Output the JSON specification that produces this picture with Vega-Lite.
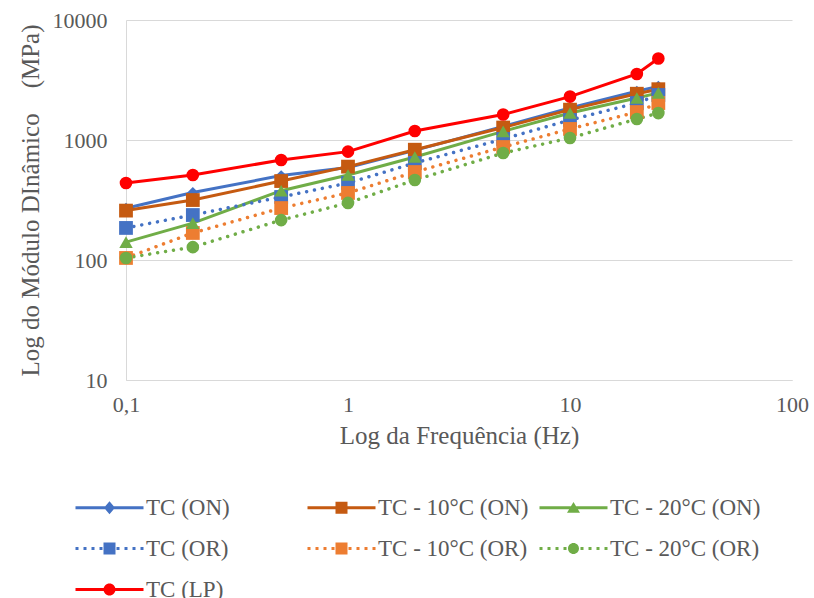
{
  "$schema": "https://vega.github.io/schema/vega-lite/v6.json",
  "width": 666,
  "height": 360,
  "autosize": {"type": "none"},
  "padding": {"left": 126, "top": 20, "right": 22, "bottom": 218},
  "background": "white",
  "config": {
    "view": {"stroke": null},
    "font": "Liberation Serif",
    "axis": {
      "labelFont": "Liberation Serif",
      "titleFont": "Liberation Serif",
      "labelColor": "#595959",
      "titleColor": "#595959",
      "titleFontWeight": "normal",
      "labelFontSize": 22,
      "titleFontSize": 25,
      "domainColor": "#d9d9d9",
      "domainWidth": 1,
      "gridColor": "#d9d9d9",
      "gridWidth": 1,
      "ticks": false,
      "tickSize": 0,
      "labelFlush": false,
      "labelOverlap": false
    },
    "legend": {
      "labelFont": "Liberation Serif"
    }
  },
  "data": {
    "values": [
      {"series": "TC (ON)", "freq": 0.1, "value": 270},
      {"series": "TC (ON)", "freq": 0.2, "value": 365},
      {"series": "TC (ON)", "freq": 0.5, "value": 505},
      {"series": "TC (ON)", "freq": 1, "value": 590},
      {"series": "TC (ON)", "freq": 2, "value": 820},
      {"series": "TC (ON)", "freq": 5, "value": 1300},
      {"series": "TC (ON)", "freq": 10, "value": 1850},
      {"series": "TC (ON)", "freq": 20, "value": 2550},
      {"series": "TC (ON)", "freq": 25, "value": 2800},
      {"series": "TC - 10°C (ON)", "freq": 0.1, "value": 258},
      {"series": "TC - 10°C (ON)", "freq": 0.2, "value": 316},
      {"series": "TC - 10°C (ON)", "freq": 0.5, "value": 455},
      {"series": "TC - 10°C (ON)", "freq": 1, "value": 600},
      {"series": "TC - 10°C (ON)", "freq": 2, "value": 830},
      {"series": "TC - 10°C (ON)", "freq": 5, "value": 1270},
      {"series": "TC - 10°C (ON)", "freq": 10, "value": 1790},
      {"series": "TC - 10°C (ON)", "freq": 20, "value": 2430},
      {"series": "TC - 10°C (ON)", "freq": 25, "value": 2650},
      {"series": "TC - 20°C (ON)", "freq": 0.1, "value": 141},
      {"series": "TC - 20°C (ON)", "freq": 0.2, "value": 203},
      {"series": "TC - 20°C (ON)", "freq": 0.5, "value": 378},
      {"series": "TC - 20°C (ON)", "freq": 1, "value": 511},
      {"series": "TC - 20°C (ON)", "freq": 2, "value": 722},
      {"series": "TC - 20°C (ON)", "freq": 5, "value": 1180},
      {"series": "TC - 20°C (ON)", "freq": 10, "value": 1680},
      {"series": "TC - 20°C (ON)", "freq": 20, "value": 2240},
      {"series": "TC - 20°C (ON)", "freq": 25, "value": 2470},
      {"series": "TC (OR)", "freq": 0.1, "value": 185},
      {"series": "TC (OR)", "freq": 0.2, "value": 237},
      {"series": "TC (OR)", "freq": 0.5, "value": 335},
      {"series": "TC (OR)", "freq": 1, "value": 438},
      {"series": "TC (OR)", "freq": 2, "value": 643},
      {"series": "TC (OR)", "freq": 5, "value": 1019},
      {"series": "TC (OR)", "freq": 10, "value": 1468},
      {"series": "TC (OR)", "freq": 20, "value": 2032},
      {"series": "TC (OR)", "freq": 25, "value": 2371},
      {"series": "TC - 10°C (OR)", "freq": 0.1, "value": 104},
      {"series": "TC - 10°C (OR)", "freq": 0.2, "value": 168},
      {"series": "TC - 10°C (OR)", "freq": 0.5, "value": 271},
      {"series": "TC - 10°C (OR)", "freq": 1, "value": 362},
      {"series": "TC - 10°C (OR)", "freq": 2, "value": 541},
      {"series": "TC - 10°C (OR)", "freq": 5, "value": 874},
      {"series": "TC - 10°C (OR)", "freq": 10, "value": 1236},
      {"series": "TC - 10°C (OR)", "freq": 20, "value": 1710},
      {"series": "TC - 10°C (OR)", "freq": 25, "value": 2032},
      {"series": "TC - 20°C (OR)", "freq": 0.1, "value": 104},
      {"series": "TC - 20°C (OR)", "freq": 0.2, "value": 128},
      {"series": "TC - 20°C (OR)", "freq": 0.5, "value": 215},
      {"series": "TC - 20°C (OR)", "freq": 1, "value": 299},
      {"series": "TC - 20°C (OR)", "freq": 2, "value": 464},
      {"series": "TC - 20°C (OR)", "freq": 5, "value": 779},
      {"series": "TC - 20°C (OR)", "freq": 10, "value": 1039},
      {"series": "TC - 20°C (OR)", "freq": 20, "value": 1496},
      {"series": "TC - 20°C (OR)", "freq": 25, "value": 1677},
      {"series": "TC (LP)", "freq": 0.1, "value": 438},
      {"series": "TC (LP)", "freq": 0.2, "value": 511},
      {"series": "TC (LP)", "freq": 0.5, "value": 681},
      {"series": "TC (LP)", "freq": 1, "value": 800},
      {"series": "TC (LP)", "freq": 2, "value": 1189},
      {"series": "TC (LP)", "freq": 5, "value": 1630},
      {"series": "TC (LP)", "freq": 10, "value": 2300},
      {"series": "TC (LP)", "freq": 20, "value": 3550},
      {"series": "TC (LP)", "freq": 25, "value": 4780}
    ]
  },
  "encoding": {
    "x": {
      "field": "freq",
      "type": "quantitative",
      "scale": {"type": "log", "domain": [0.1, 100]},
      "axis": {
        "title": "Log da Frequência (Hz)",
        "values": [0.1, 1, 10, 100],
        "format": "~g",
        "labelExpr": "replace(datum.label, '.', ',')",
        "grid": false,
        "labelPadding": 14,
        "titlePadding": 8
      }
    },
    "y": {
      "field": "value",
      "type": "quantitative",
      "scale": {"type": "log", "domain": [10, 10000]},
      "axis": {
        "title": "Log do Módulo DInâmico \u00a0\u00a0\u00a0(MPa)",
        "values": [10, 100, 1000, 10000],
        "format": "d",
        "grid": true,
        "labelPadding": 19,
        "titlePadding": 9
      }
    }
  },
  "layer": [
    {
      "transform": [{"filter": {"field": "series", "oneOf": ["TC (ON)", "TC - 10°C (ON)", "TC - 20°C (ON)", "TC (LP)"]}}],
      "mark": {"type": "line", "strokeWidth": 3},
      "encoding": {
        "color": {
          "field": "series", "type": "nominal", "legend": null,
          "scale": {
            "range": ["#FF0000", "#4472C4", "#4472C4", "#C55A11", "#ED7D31", "#70AD47", "#70AD47"]
          }
        }
      }
    },
    {
      "transform": [{"filter": {"field": "series", "oneOf": ["TC (OR)", "TC - 10°C (OR)", "TC - 20°C (OR)"]}}],
      "mark": {"type": "line", "strokeWidth": 3.5, "strokeDash": [0.01, 8], "strokeCap": "round"},
      "encoding": {
        "color": {"field": "series", "type": "nominal", "legend": null}
      }
    },
    {
      "transform": [{"filter": {"field": "series", "equal": "TC (ON)"}}],
      "mark": {"type": "point", "shape": "diamond", "filled": true, "size": 120, "opacity": 1, "strokeWidth": 0},
      "encoding": {
        "color": {"field": "series", "type": "nominal", "legend": null}
      }
    },
    {
      "transform": [{"filter": {"field": "series", "oneOf": ["TC - 10°C (ON)", "TC (OR)", "TC - 10°C (OR)"]}}],
      "mark": {"type": "point", "shape": "square", "filled": true, "size": 190, "opacity": 1, "strokeWidth": 0},
      "encoding": {
        "color": {"field": "series", "type": "nominal", "legend": null}
      }
    },
    {
      "transform": [{"filter": {"field": "series", "equal": "TC - 20°C (ON)"}}],
      "mark": {"type": "point", "shape": "triangle-up", "filled": true, "size": 180, "opacity": 1, "strokeWidth": 0},
      "encoding": {
        "color": {"field": "series", "type": "nominal", "legend": null}
      }
    },
    {
      "transform": [{"filter": {"field": "series", "oneOf": ["TC - 20°C (OR)", "TC (LP)"]}}],
      "mark": {"type": "point", "shape": "circle", "filled": true, "size": 160, "opacity": 1, "strokeWidth": 0},
      "encoding": {
        "color": {"field": "series", "type": "nominal", "legend": null}
      }
    },
    {
      "mark": {"type": "point", "filled": true, "opacity": 0, "strokeWidth": 0},
      "encoding": {
        "fill": {
          "field": "series", "type": "nominal",
          "scale": {
            "domain": ["TC (ON)", "TC - 10°C (ON)", "TC - 20°C (ON)", "TC (OR)", "TC - 10°C (OR)", "TC - 20°C (OR)", "TC (LP)"],
            "range": ["#4472C4", "#C55A11", "#70AD47", "#4472C4", "#ED7D31", "#70AD47", "#FF0000"]
          },
          "legend": {
            "title": null, "orient": "none", "legendX": -52, "legendY": 476, "direction": "horizontal",
            "values": ["TC (ON)", "TC - 10°C (ON)", "TC - 20°C (ON)", "TC (OR)", "TC - 10°C (OR)", "TC - 20°C (OR)", "TC (LP)"],
            "columns": 3, "gridAlign": "all", "columnPadding": 9, "rowPadding": 17,
            "symbolSize": 400, "symbolStrokeWidth": 0, "symbolOpacity": 1,
            "labelFont": "Liberation Serif", "labelFontSize": 23, "labelColor": "#595959", "labelOffset": 49, "labelLimit": 400, "padding": 0
          }
        },
        "shape": {
          "field": "series", "type": "nominal",
          "scale": {
            "domain": ["TC (ON)", "TC - 10°C (ON)", "TC - 20°C (ON)", "TC (OR)", "TC - 10°C (OR)", "TC - 20°C (OR)", "TC (LP)"],
            "range": [
              "M-1,-0.15H5.8V0.15H-1Z M2.4,-0.65L2.95,0L2.4,0.65L1.85,0Z",
              "M-1,-0.15H5.8V0.15H-1Z M1.8,-0.6H3V0.6H1.8Z",
              "M-1,-0.15H5.8V0.15H-1Z M2.4,-0.58L3.05,0.5H1.75Z",
              "M-1,-0.15h0.3v0.3h-0.3Z M-0.2,-0.15h0.3v0.3h-0.3Z M0.6,-0.15h0.3v0.3h-0.3Z M1.4,-0.15h0.3v0.3h-0.3Z M3.1,-0.15h0.3v0.3h-0.3Z M3.9,-0.15h0.3v0.3h-0.3Z M4.7,-0.15h0.3v0.3h-0.3Z M5.5,-0.15h0.3v0.3h-0.3Z M1.8,-0.6H3V0.6H1.8Z",
              "M-1,-0.15h0.3v0.3h-0.3Z M-0.2,-0.15h0.3v0.3h-0.3Z M0.6,-0.15h0.3v0.3h-0.3Z M1.4,-0.15h0.3v0.3h-0.3Z M3.1,-0.15h0.3v0.3h-0.3Z M3.9,-0.15h0.3v0.3h-0.3Z M4.7,-0.15h0.3v0.3h-0.3Z M5.5,-0.15h0.3v0.3h-0.3Z M1.8,-0.6H3V0.6H1.8Z",
              "M-1,-0.15h0.3v0.3h-0.3Z M-0.2,-0.15h0.3v0.3h-0.3Z M0.6,-0.15h0.3v0.3h-0.3Z M1.4,-0.15h0.3v0.3h-0.3Z M3.1,-0.15h0.3v0.3h-0.3Z M3.9,-0.15h0.3v0.3h-0.3Z M4.7,-0.15h0.3v0.3h-0.3Z M5.5,-0.15h0.3v0.3h-0.3Z M1.85,0A0.55,0.55,0,1,1,2.95,0A0.55,0.55,0,1,1,1.85,0Z",
              "M-1,-0.15H5.8V0.15H-1Z M1.8,0A0.6,0.6,0,1,1,3,0A0.6,0.6,0,1,1,1.8,0Z"
            ]
          },
          "legend": {
            "title": null, "orient": "none", "legendX": -52, "legendY": 476, "direction": "horizontal",
            "values": ["TC (ON)", "TC - 10°C (ON)", "TC - 20°C (ON)", "TC (OR)", "TC - 10°C (OR)", "TC - 20°C (OR)", "TC (LP)"],
            "columns": 3, "gridAlign": "all", "columnPadding": 9, "rowPadding": 17,
            "symbolSize": 400, "symbolStrokeWidth": 0, "symbolOpacity": 1,
            "labelFont": "Liberation Serif", "labelFontSize": 23, "labelColor": "#595959", "labelOffset": 49, "labelLimit": 400, "padding": 0
          }
        }
      }
    }
  ]
}
